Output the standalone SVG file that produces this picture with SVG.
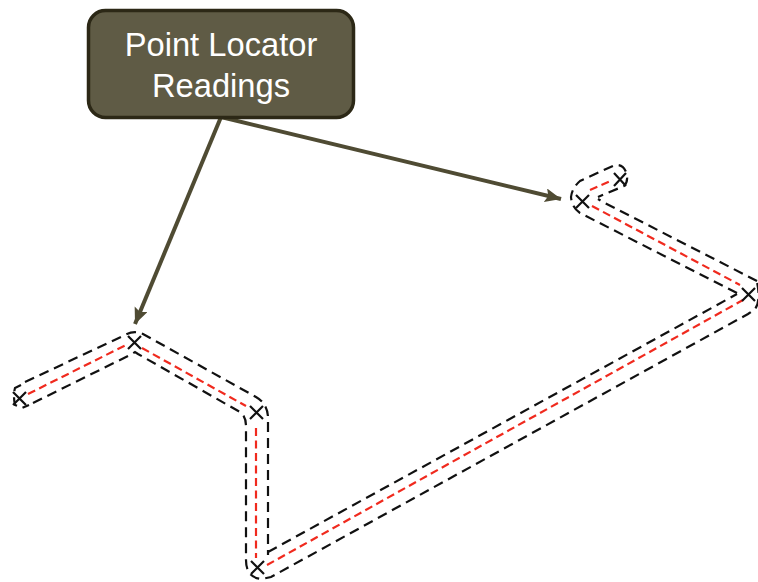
<svg xmlns="http://www.w3.org/2000/svg" width="758" height="582" viewBox="0 0 758 582">
<defs>
<style>
.o{fill:none;stroke:#111;stroke-width:2.200;stroke-dasharray:10 6}
.r{fill:none;stroke:#f02a1e;stroke-width:2.200;stroke-dasharray:8 4.500}
.x{fill:none;stroke:#111;stroke-width:2.200}
.a{fill:none;stroke:#4f4b33;stroke-width:4}
.t{font-family:"Liberation Sans",Arial,sans-serif;font-size:32.700px;fill:#fff;text-anchor:middle}
</style>
<marker id="ah" markerUnits="userSpaceOnUse" markerWidth="18" markerHeight="16" refX="16" refY="7" orient="auto"><path d="M0,0 L16,7 L0,14 L3,7 Z" fill="#4f4b33"/></marker>
</defs>
<g id="connectors">
<path class="a" d="M221,117 L135,324" marker-end="url(#ah)"/>
<path class="a" d="M221,117 L561,199" marker-end="url(#ah)"/>
</g>
<g id="node-readings">
<rect x="88.500" y="10.500" width="265" height="107" rx="17" fill="#5f5b45" stroke="#2c2816" stroke-width="3.500"/>
<text class="t" x="221" y="56">Point Locator</text>
<text class="t" x="221" y="97">Readings</text>
</g>
<g id="route-left">
<path class="o" d="M25,382 L125,335 Q134,330 143,334 L256,397 Q268,404 268,418 L268,555"/>
<path class="o" d="M33,403 L132,354 L135,352 L138,354 L240,412 Q246,416 246,426 L246,560 Q246,578 262,579 L271,577 L748,314 L755,309 Q761,301 757,282"/>
<path class="o" d="M268,552 L737,294"/>
<path class="o" d="M21,385 L15,388 Q13,396 15,405 L22,408 L29,405"/>
<path class="r" d="M28,394 L128,344"/>
<path class="r" d="M142,348 L246,406"/>
<path class="r" d="M256,428 L256,558"/>
<path class="r" d="M267,565 L743,300"/>
<path class="x" d="M13,392 L26,405 M13,405 L26,392"/>
<path class="x" d="M128,336 L141,349 M128,349 L141,336"/>
<path class="x" d="M250,406 L263,419 M250,419 L263,406"/>
<path class="x" d="M251,561 L264,574 M251,574 L264,561"/>
</g>
<g id="route-right">
<path class="o" d="M757,281 L603,202 L598,199"/>
<path class="o" d="M737,293 L580,213 Q572,208 571,197 Q572,188 580,181 L615,165 Q623,164 626,172 Q629,181 624,186 L598,197"/>
<path class="r" d="M592,206 L740,285"/>
<path class="r" d="M590,190 L613,180"/>
<path class="x" d="M742,288 L755,301 M742,301 L755,288"/>
<path class="x" d="M576,195 L589,208 M576,208 L589,195"/>
<path class="x" d="M614,173 L626,186 M614,186 L626,173"/>
</g>
</svg>
